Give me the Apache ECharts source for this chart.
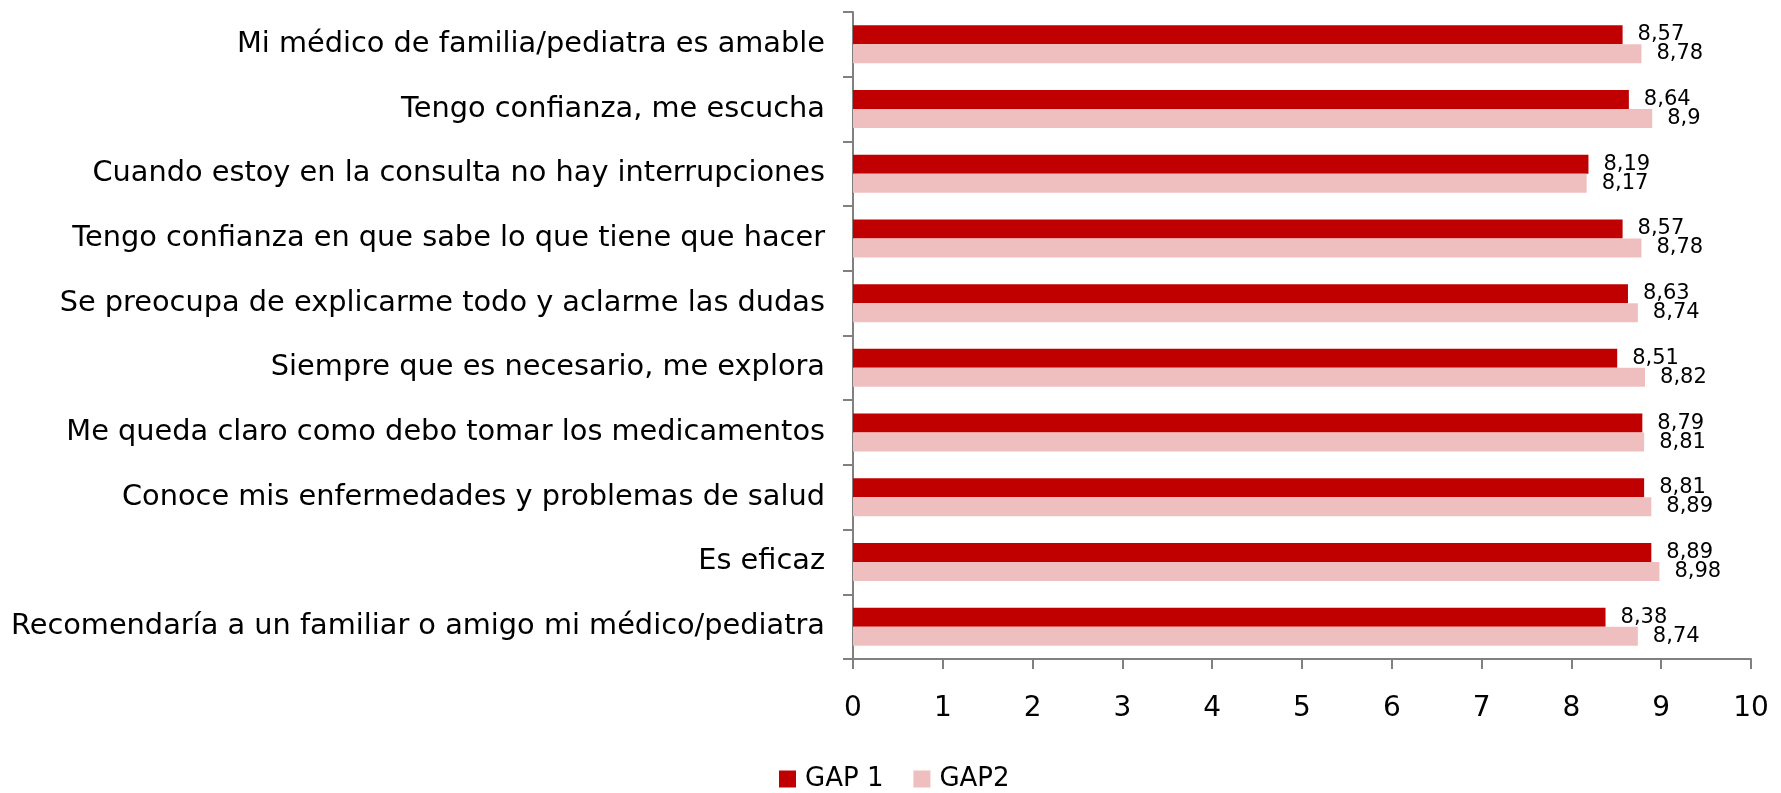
<!DOCTYPE html>
<html>
<head>
<meta charset="utf-8">
<script src="https://cdn.jsdelivr.net/npm/echarts@6/dist/echarts.min.js"></script>
<style>
html,body{margin:0;padding:0;background:#fff;}
#chart{width:1781px;height:793px;}
</style>
</head>
<body>
<div id="chart"></div>
<script>
const categories = [
  'Mi médico de familia/pediatra es amable',
  'Tengo confianza, me escucha',
  'Cuando estoy en la consulta no hay interrupciones',
  'Tengo confianza en que sabe lo que tiene que hacer',
  'Se preocupa de explicarme todo y aclarme las dudas',
  'Siempre que es necesario, me explora',
  'Me queda claro como debo tomar los medicamentos',
  'Conoce mis enfermedades y problemas de salud',
  'Es eficaz',
  'Recomendaría a un familiar o amigo mi médico/pediatra'
];
const gap1 = [8.57, 8.64, 8.19, 8.57, 8.63, 8.51, 8.79, 8.81, 8.89, 8.38];
const gap2 = [8.78, 8.9, 8.17, 8.78, 8.74, 8.82, 8.81, 8.89, 8.98, 8.74];
const seriesNames = ['GAP 1', 'GAP2'];

const FONT = '"DejaVu Sans", sans-serif';
const chart = echarts.init(document.getElementById('chart'), null, {renderer: 'canvas'});
const fmt = p => String(p.value).replace('.', ',');
const lbl = {
  show: true, position: 'right', distance: 15,
  formatter: fmt, color: '#000', fontSize: 21, fontFamily: FONT
};
chart.setOption({
  animation: false,
  backgroundColor: '#fff',
  grid: {left: 853, right: 30, top: 12, bottom: 134, containLabel: false},
  legend: {
    data: seriesNames,
    left: 779, top: 766, padding: 0,
    itemWidth: 17, itemHeight: 17, itemGap: 30,
    icon: 'rect',
    textStyle: {fontSize: 26, fontFamily: FONT, color: '#000', padding: [0, 0, 0, 4]}
  },
  xAxis: {
    type: 'value', min: 0, max: 10, interval: 1,
    axisLine: {show: true, lineStyle: {color: '#808080', width: 2}},
    axisTick: {show: true, length: 10, lineStyle: {color: '#808080', width: 2}},
    splitLine: {show: false},
    axisLabel: {fontSize: 28, fontFamily: FONT, color: '#000', margin: 36}
  },
  yAxis: {
    type: 'category', data: categories, inverse: true,
    axisLine: {show: true, lineStyle: {color: '#808080', width: 2}},
    axisTick: {show: true, length: 10, lineStyle: {color: '#808080', width: 2}},
    axisLabel: {fontSize: 28.8, fontFamily: FONT, color: '#000', margin: 28}
  },
  series: [
    {name: seriesNames[0], type: 'bar', data: gap1, barWidth: 19, barGap: '0%',
     itemStyle: {color: '#C00000'}, label: lbl},
    {name: seriesNames[1], type: 'bar', data: gap2, barWidth: 19, barGap: '0%',
     itemStyle: {color: '#EFBFBF'}, label: lbl}
  ]
});
</script>
</body>
</html>
